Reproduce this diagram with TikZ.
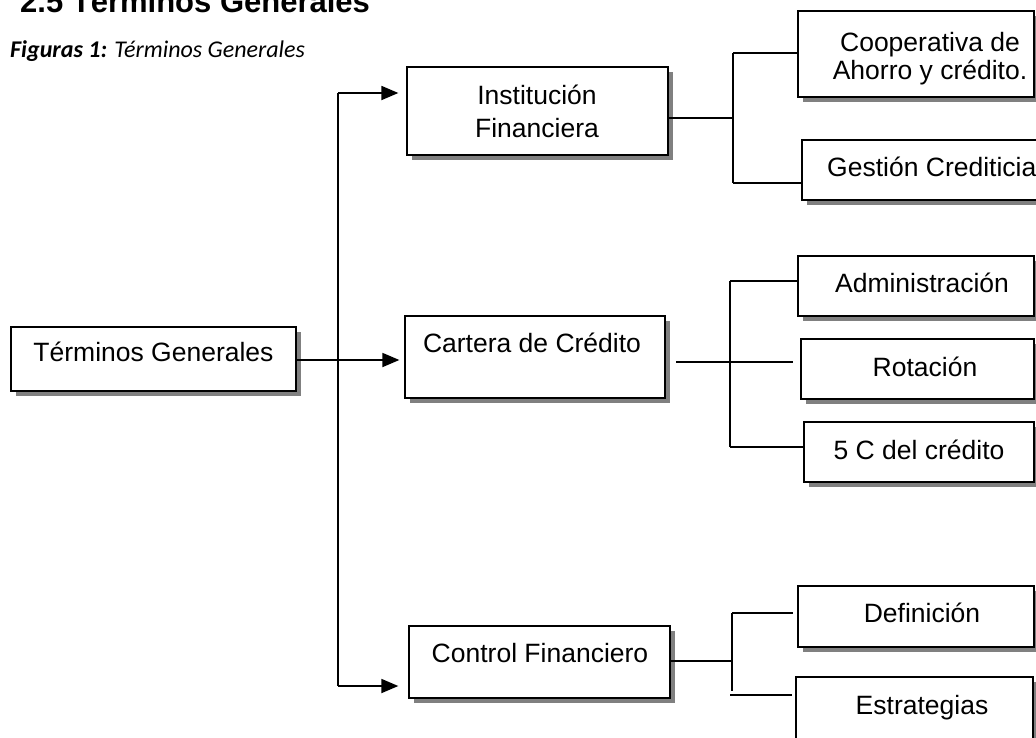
\documentclass[tikz,border=0pt]{standalone}
\usepackage{fontspec}
\setmainfont{Liberation Sans}
\newfontfamily\capfont{Carlito}
\usetikzlibrary{arrows.meta,shadows}
\begin{document}
\begin{tikzpicture}[x=1pt,y=-1pt,
  boxnode/.style={draw=black,line width=1.3pt,fill=white,inner sep=0pt,
    drop shadow={shadow xshift=5pt,shadow yshift=-5pt,fill=black!50,opacity=1}},
  lbl/.style={font=\fontsize{26.5}{30}\selectfont,anchor=base,inner sep=0pt},
  conn/.style={line width=1.8pt},
  arr/.style={line width=1.8pt,-{Triangle[length=17pt,width=14pt]}}]
\useasboundingbox (0,0) rectangle (1036,737);
\fill[white] (0,0) rectangle (1036,737);
% title and caption
\node[anchor=base west,inner sep=0pt,font=\bfseries\fontsize{31}{36}\selectfont] (title) at (20,12) {2.5 Términos Generales};
\node[anchor=base west,inner sep=0pt,font=\capfont\fontsize{24}{28}\selectfont] (caption) at (10,57) {\textbf{\textit{Figuras 1:}} \textit{Términos Generales}};
% boxes
\node[boxnode,minimum width=285pt,minimum height=64pt] (tg) at (153.5,359) {};
\node[boxnode,minimum width=261pt,minimum height=88pt] (inst) at (537.5,111) {};
\node[boxnode,minimum width=260pt,minimum height=82pt] (cart) at (535,357) {};
\node[boxnode,minimum width=261pt,minimum height=72pt] (ctrl) at (539.5,662) {};
\node[boxnode,minimum width=236pt,minimum height=86pt] (coop) at (916,54) {};
\node[boxnode,minimum width=258pt,minimum height=60pt] (gest) at (931,170) {};
\node[boxnode,minimum width=236pt,minimum height=60pt] (adm) at (916,286) {};
\node[boxnode,minimum width=233pt,minimum height=60pt] (rot) at (917.5,369) {};
\node[boxnode,minimum width=230pt,minimum height=60pt] (cinco) at (919,452) {};
\node[boxnode,minimum width=236pt,minimum height=61pt] (def) at (916,616.5) {};
\node[boxnode,minimum width=237pt,minimum height=70pt] (estr) at (914.5,712) {};
% labels
\node[lbl] (tgL) at (153.5,361) {Términos Generales};
\node[lbl] (instL1) at (537,104) {Institución};
\node[lbl] (instL2) at (537,137) {Financiera};
\node[lbl] (cartL) at (532,352) {Cartera de Crédito};
\node[lbl] (ctrlL) at (540,662) {Control Financiero};
\node[lbl] (coopL1) at (930,51) {Cooperativa de};
\node[lbl] (coopL2) at (930,79) {Ahorro y crédito.};
\node[lbl,anchor=base west] (gestL) at (827,176) {Gestión Crediticia};
\node[lbl] (admL) at (922,292) {Administración};
\node[lbl] (rotL) at (925,376) {Rotación};
\node[lbl] (cincoL) at (919,459) {5 C del crédito};
\node[lbl] (defL) at (922,622) {Definición};
\node[lbl] (estrL) at (922,714) {Estrategias};
% main trunk
\coordinate (tTop) at (338,93);
\coordinate (tMid) at (338,360);
\coordinate (tBot) at (338,686);
\draw[conn] (tTop) -- (tBot);
\draw[line width=1.1pt] (tg.east |- tMid) -- (tMid);
\draw[arr] (tTop) -- ([xshift=-8pt]inst.west |- tTop);
\draw[arr] (tMid) -- ([xshift=-5pt]cart.west |- tMid);
\draw[arr] (tBot) -- ([xshift=-10pt]ctrl.west |- tBot);
% Institucion group
\coordinate (iJ) at (733,118);
\coordinate (iT) at (733,53);
\coordinate (iB) at (733,183);
\draw[conn] (inst.east |- iJ) -- (iJ);
\draw[conn] (iT) -- (iB);
\draw[conn] (iT) -- (coop.west |- iT);
\draw[conn] (iB) -- (gest.west |- iB);
% Cartera group
\coordinate (cS) at (676,362);
\coordinate (cE) at (793,362);
\coordinate (cT) at (730,281);
\coordinate (cB) at (730,447);
\draw[conn] (cS) -- (cE);
\draw[conn] (cT) -- (cB);
\draw[conn] (cT) -- (adm.west |- cT);
\draw[conn] (cB) -- (cinco.west |- cB);
% Control group
\coordinate (fJ) at (732,661);
\coordinate (fT) at (732,613);
\coordinate (fB) at (732,691);
\coordinate (fBs) at (730,695);
\coordinate (fBe) at (792,695);
\coordinate (fTe) at (793,613);
\draw[conn] (ctrl.east |- fJ) -- (fJ);
\draw[conn] (fT) -- (fB);
\draw[conn] (fT) -- (fTe);
\draw[conn] (fBs) -- (fBe);
\end{tikzpicture}
\end{document}
